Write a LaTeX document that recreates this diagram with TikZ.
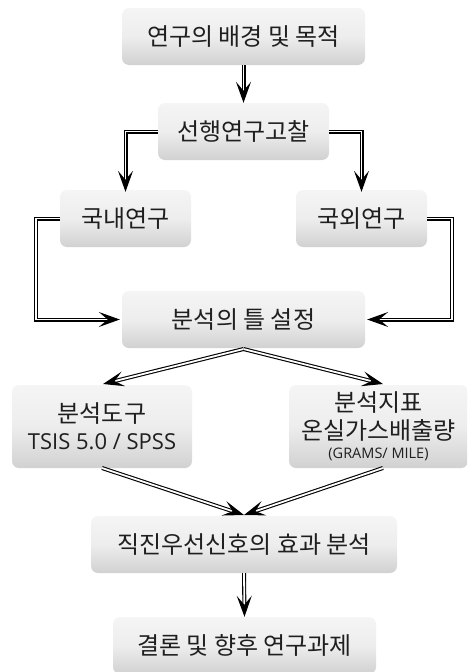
\documentclass[tikz,border=0pt]{standalone}
\usepackage{fontspec}
\setmainfont{Noto Sans CJK KR}
\newfontfamily\latinf{Open Sans}
\usetikzlibrary{arrows.meta,shadings}
\begin{document}
\begin{tikzpicture}[x=1pt,y=-1pt,
  box/.style={rounded corners=7pt, top color=black!4, bottom color=black!18, middle color=black!7,
    shading angle=0, draw=none, inner sep=0pt, anchor=center, align=center,
    font=\fontsize{24}{27}\selectfont, text=black!88},
  conn/.style={line width=1.1pt, draw=black, double=white, double distance=1.8pt,
    -{Stealth[length=21pt,width=15pt,inset=9pt]}, line join=miter},
]
\useasboundingbox (0,0) rectangle (467,672);
\begin{scope}
\clip (0,0) rectangle (467,672);
\node[box, minimum width=243pt, minimum height=57pt] (b1) at (243.5,36.5) {연구의 배경 및 목적};
\node[box, minimum width=171pt, minimum height=57pt] (b2) at (243.5,131.5) {선행연구고찰};
\node[box, minimum width=131pt, minimum height=57pt] (b3) at (125.5,218.5) {국내연구};
\node[box, minimum width=131pt, minimum height=57pt] (b4) at (361.5,218.5) {국외연구};
\node[box, minimum width=243pt, minimum height=57pt] (b5) at (243.5,319.5) {분석의 틀 설정};
\node[box, minimum width=180pt, minimum height=83pt] (b6) at (102,426.5) {분석도구\\{\latinf\fontsize{22}{26}\selectfont TSIS 5.0 / SPSS}};
\node[box, minimum width=179pt, minimum height=83pt] (b7) at (378.5,426.5) {분석지표\\[1pt]온실가스배출량\\[-8pt]{\latinf\fontsize{14.5}{15}\selectfont (GRAMS/ MILE)}};
\node[box, minimum width=306pt, minimum height=57pt] (b8) at (244,544.5) {직진우선신호의 효과 분석};
\node[box, minimum width=263pt, minimum height=57pt] (b9) at (244.5,645.5) {결론 및 향후 연구과제};
\end{scope}
\coordinate (s5) at (243.5,349);
\coordinate (t6) at (103,384);
\coordinate (t7) at (383,384);
\coordinate (s6) at (102,468);
\coordinate (s7) at (383,468);
\coordinate (t8) at (244,515);
\draw[conn] (b1.south) -- (b2.north);
\draw[conn] (b2.west) -| ([yshift=-2pt]b3.north);
\draw[conn] (b2.east) -| ([yshift=-2pt]b4.north);
\draw[conn] (b3.west) -- (36,218.5) |- ([xshift=-2pt]b5.west);
\draw[conn] (b4.east) -- (452,218.5) |- ([xshift=2pt]b5.east);
\draw[conn] (s5) -- (t6);
\draw[conn] (s5) -- (t7);
\draw[conn] (s6) -- (t8);
\draw[conn] (s7) -- (t8);
\draw[conn] (b8.south) -- (b9.north);
\end{tikzpicture}
\end{document}
